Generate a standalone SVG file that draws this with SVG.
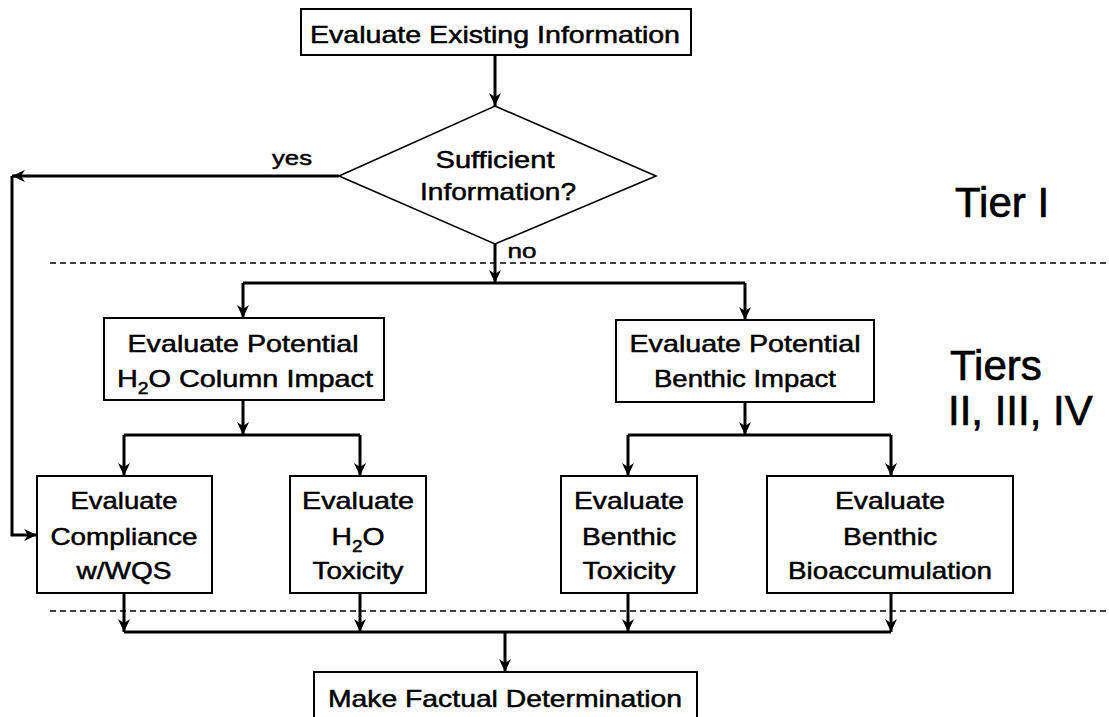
<svg xmlns="http://www.w3.org/2000/svg" width="1109" height="717" viewBox="0 0 1109 717">
  <style>
    .box { fill: #fff; stroke: #000; stroke-width: 2; }
    .dia { fill: #fff; stroke: #000; stroke-width: 1.6; }
    .t { font-family: "Liberation Sans", Arial, sans-serif; font-size: 24px; fill: #000; stroke: #000; stroke-width: 0.5; text-anchor: middle; }
    .lbl { font-family: "Liberation Sans", Arial, sans-serif; font-size: 21px; fill: #000; stroke: #000; stroke-width: 0.5; text-anchor: middle; }
    .tier { font-family: "Liberation Sans", Arial, sans-serif; font-size: 42px; fill: #000; stroke: #000; stroke-width: 0.7; }
    .wire { fill: none; stroke: #000; stroke-width: 3; }
    .arr { marker-end: url(#head); }
    .sep { fill: none; stroke: #000; stroke-width: 1.5; stroke-dasharray: 6 4; }
  </style>
  <defs>
    <marker id="head" markerUnits="userSpaceOnUse" markerWidth="14" markerHeight="14" refX="13" refY="7" orient="auto">
      <path d="M0,1 L13,7 L0,13 L4,7 z" fill="#000"/>
    </marker>
  </defs>
  <rect width="1109" height="717" fill="#fff"/>

  <!-- tier separators -->
  <g id="separators">
    <line class="sep" x1="50" y1="263" x2="1109" y2="263"/>
    <line class="sep" x1="50" y1="611" x2="1109" y2="611"/>
  </g>

  <!-- connectors -->
  <g id="connectors">
    <line class="wire arr" x1="495" y1="55" x2="495" y2="106"/>
    <line class="wire arr" x1="339" y1="176" x2="12" y2="176"/>
    <path class="wire arr" d="M12,176 V535 H37"/>
    <line class="wire arr" x1="495" y1="244" x2="495" y2="283"/>
    <path class="wire" d="M243,283 H745"/>
    <line class="wire arr" x1="243" y1="283" x2="243" y2="318"/>
    <line class="wire arr" x1="745" y1="283" x2="745" y2="320"/>
    <line class="wire arr" x1="243" y1="400" x2="243" y2="435"/>
    <path class="wire" d="M124,435 H360"/>
    <line class="wire arr" x1="124" y1="435" x2="124" y2="476"/>
    <line class="wire arr" x1="360" y1="435" x2="360" y2="476"/>
    <line class="wire arr" x1="745" y1="402" x2="745" y2="435"/>
    <path class="wire" d="M628,435 H891"/>
    <line class="wire arr" x1="628" y1="435" x2="628" y2="476"/>
    <line class="wire arr" x1="891" y1="435" x2="891" y2="476"/>
    <line class="wire arr" x1="124" y1="593" x2="124" y2="632"/>
    <line class="wire arr" x1="360" y1="593" x2="360" y2="632"/>
    <line class="wire arr" x1="628" y1="593" x2="628" y2="632"/>
    <line class="wire arr" x1="891" y1="593" x2="891" y2="632"/>
    <path class="wire" d="M124,632 H891"/>
    <line class="wire arr" x1="505" y1="632" x2="505" y2="672"/>
  </g>

  <g id="evaluate-existing">
    <rect class="box" x="301" y="9" width="390" height="46"/>
    <text class="t" x="495" y="43" font-size="25" textLength="370" lengthAdjust="spacingAndGlyphs">Evaluate Existing Information</text>
  </g>

  <g id="sufficient">
    <polygon class="dia" points="495,106 656,176 495,244 339,176"/>
    <text class="t" x="495" y="168" font-size="23" textLength="119" lengthAdjust="spacingAndGlyphs">Sufficient</text>
    <text class="t" x="498" y="200" font-size="23" textLength="156" lengthAdjust="spacingAndGlyphs">Information?</text>
    <text class="lbl" x="292" y="165" textLength="40" lengthAdjust="spacingAndGlyphs">yes</text>
    <text class="lbl" x="522" y="258" textLength="29" lengthAdjust="spacingAndGlyphs">no</text>
  </g>

  <g id="water-column">
    <rect class="box" x="104" y="318" width="280" height="82"/>
    <text class="t" x="243" y="352" textLength="231" lengthAdjust="spacingAndGlyphs">Evaluate Potential</text>
    <text class="t" x="245" y="387" textLength="256" lengthAdjust="spacingAndGlyphs">H<tspan font-size="16" dy="7">2</tspan><tspan dy="-7">O Column Impact</tspan></text>
  </g>

  <g id="benthic">
    <rect class="box" x="616" y="320" width="258" height="82"/>
    <text class="t" x="745" y="352" textLength="231" lengthAdjust="spacingAndGlyphs">Evaluate Potential</text>
    <text class="t" x="745" y="387" textLength="182" lengthAdjust="spacingAndGlyphs">Benthic Impact</text>
  </g>

  <g id="compliance">
    <rect class="box" x="37" y="476" width="175" height="117"/>
    <text class="t" x="124" y="509" textLength="107" lengthAdjust="spacingAndGlyphs">Evaluate</text>
    <text class="t" x="124" y="545" textLength="147" lengthAdjust="spacingAndGlyphs">Compliance</text>
    <text class="t" x="124" y="579" textLength="95" lengthAdjust="spacingAndGlyphs">w/WQS</text>
  </g>

  <g id="water-toxicity">
    <rect class="box" x="290" y="476" width="136" height="117"/>
    <text class="t" x="358" y="509" textLength="112" lengthAdjust="spacingAndGlyphs">Evaluate</text>
    <text class="t" x="358" y="545" textLength="53" lengthAdjust="spacingAndGlyphs">H<tspan font-size="16" dy="7">2</tspan><tspan dy="-7">O</tspan></text>
    <text class="t" x="358" y="579" textLength="91" lengthAdjust="spacingAndGlyphs">Toxicity</text>
  </g>

  <g id="benthic-toxicity">
    <rect class="box" x="561" y="476" width="136" height="117"/>
    <text class="t" x="629" y="509" textLength="110" lengthAdjust="spacingAndGlyphs">Evaluate</text>
    <text class="t" x="629" y="545" textLength="94" lengthAdjust="spacingAndGlyphs">Benthic</text>
    <text class="t" x="629" y="579" textLength="93" lengthAdjust="spacingAndGlyphs">Toxicity</text>
  </g>

  <g id="bioaccumulation">
    <rect class="box" x="767" y="476" width="246" height="117"/>
    <text class="t" x="890" y="509" textLength="110" lengthAdjust="spacingAndGlyphs">Evaluate</text>
    <text class="t" x="890" y="545" textLength="94" lengthAdjust="spacingAndGlyphs">Benthic</text>
    <text class="t" x="890" y="579" textLength="204" lengthAdjust="spacingAndGlyphs">Bioaccumulation</text>
  </g>

  <g id="determination">
    <rect class="box" x="314" y="672" width="383" height="60"/>
    <text class="t" x="505" y="707" font-size="28" textLength="354" lengthAdjust="spacingAndGlyphs">Make Factual Determination</text>
  </g>

  <g id="tier-labels">
    <text class="tier" x="955" y="217">Tier I</text>
    <text class="tier" x="950" y="380">Tiers</text>
    <text class="tier" x="948" y="425">II, III, IV</text>
  </g>
</svg>
